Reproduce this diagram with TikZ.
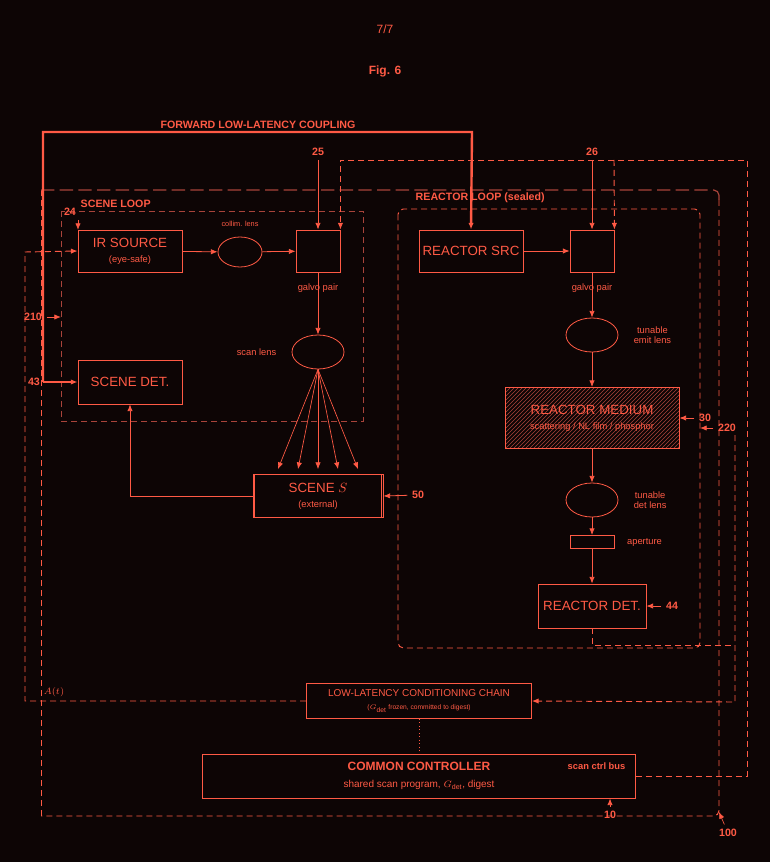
\documentclass[tikz,border=0pt]{standalone}
\usepackage{fontspec}
\setmainfont{Liberation Sans}
\usetikzlibrary{positioning,calc,patterns,arrows.meta,shapes.geometric}
\definecolor{ink}{HTML}{FF5A45}
\definecolor{dim}{HTML}{A8433A}
\definecolor{bg}{HTML}{0D0505}
\def\px{*0.75pt}
\tikzset{
  box/.style={draw=ink,line width=0.65pt,inner sep=0pt,text=ink,align=center},
  lens/.style={draw=ink,line width=0.6pt,ellipse,inner sep=0pt},
  lbl/.style={text=ink,font=\fontsize{7}{8}\selectfont,align=center},
  num/.style={text=ink,font=\bfseries\fontsize{8}{9}\selectfont},
  arr/.style={draw=ink,line width=0.6pt,-{Latex[length=5pt,width=4pt]}},
  dsh/.style={draw=ink,line width=0.7pt,dash pattern=on 4.5pt off 3pt},
}
\begin{document}
\begin{tikzpicture}[x=0.75pt,y=-0.75pt,font=\fontsize{10}{12}\selectfont]
\fill[bg] (0,0) rectangle (770,862);
\useasboundingbox (0,0) rectangle (770,862);

\node[text=ink,font=\fontsize{9}{10}\selectfont] (page) at (385,29) {7/7};
\node[num,font=\bfseries\fontsize{9}{10}\selectfont] (fig) at (385,71) {Fig. 6};

% frames
\draw[dsh,rounded corners=4pt] (41,816) -- (41,190);
\draw[dim,dash pattern=on 10pt off 4pt,line width=0.9pt,rounded corners=4pt] (41,190) -- (719,190) -- (719,200);
\draw[dsh,rounded corners=4pt] (719,200) -- (719,816) -- (41,816);
\draw[dim,dash pattern=on 4.5pt off 3pt,line width=0.7pt] (61,211) rectangle (363,421);
\draw[dsh,rounded corners=4pt] (398,209) rectangle (700,648);
\node[num,anchor=west] (sl) at (76,204) {SCENE LOOP};
\node[num,anchor=west] (rl) at (411,198) {REACTOR LOOP (sealed)};

% scene loop
\node[box,minimum width=104\px,minimum height=42\px] (irs) at (130,251) {IR SOURCE\\[-1pt]{\fontsize{7}{8}\selectfont (eye-safe)}};
\node[lens,minimum width=44\px,minimum height=30\px] (cl) at (240,252) {};
\node[lbl,font=\fontsize{5.5}{6}\selectfont,above=4pt of cl] (cll) {collim. lens};
\node[box,minimum width=44\px,minimum height=42\px] (gv1) at (318,251) {};
\node[lbl,below=5pt of gv1] (gv1l) {galvo pair};
\node[lens,minimum width=52\px,minimum height=34\px] (sc) at (318,352) {};
\node[lbl,left=8pt of sc] (scl) {scan lens};
\node[box,minimum width=104\px,minimum height=44\px] (sdet) at (130,382) {SCENE DET.};
\node[box,minimum width=130\px,minimum height=43\px] (scene) at (318,496) {SCENE $S$\\[-1pt]{\fontsize{7}{8}\selectfont (external)}};
\draw[ink,line width=0.6pt] ($(scene.north west)+(2,0)$) -- ($(scene.south west)+(2,0)$)
  ($(scene.north east)+(-2,0)$) -- ($(scene.south east)+(-2,0)$);

\draw[arr] (irs) -- (cl);
\draw[arr] (cl) -- (gv1);
\draw[arr] (gv1) -- (sc);
\foreach \dx in {-40,-20,0,20,40}
  \draw[arr,line width=0.5pt] (sc.south) -- ($(scene.north)+(\dx,-5)$);
\draw[arr] (scene.west) -| (sdet.south);

% reactor loop
\node[box,minimum width=104\px,minimum height=42\px] (rsrc) at (471,251) {REACTOR SRC};
\node[box,minimum width=44\px,minimum height=42\px] (gv2) at (592,251) {};
\node[lbl,below=5pt of gv2] (gv2l) {galvo pair};
\node[lens,minimum width=52\px,minimum height=34\px] (el) at (592,335) {};
\node[lbl,right=8pt of el] (ell) {tunable\\emit lens};
\node[box,pattern={north east lines},pattern color=dim,minimum width=174\px,minimum height=61\px] (med) at (592,418)
  {REACTOR MEDIUM\\[-1pt]{\fontsize{7}{8}\selectfont scattering / NL film / phosphor}};
\node[lens,minimum width=52\px,minimum height=34\px] (dl) at (592,500) {};
\node[lbl,right=8pt of dl] (dll) {tunable\\det lens};
\node[box,minimum width=44\px,minimum height=13\px] (ap) at (592,542) {};
\node[lbl,right=6pt of ap] (apl) {aperture};
\node[box,minimum width=108\px,minimum height=44\px] (rdet) at (592,606) {REACTOR DET.};

\draw[arr] (rsrc) -- (gv2);
\draw[arr] (gv2) -- (el);
\draw[arr] (el) -- (med);
\draw[arr] (med) -- (dl);
\draw[arr] (dl) -- (ap);
\draw[arr] (ap) -- (rdet);

% controller
\node[box,minimum width=225\px,minimum height=35\px] (chain) at (419,701)
  {{\fontsize{7.5}{9}\selectfont LOW-LATENCY CONDITIONING CHAIN}\\[-2pt]{\fontsize{5}{6}\selectfont ($G_\mathrm{det}$ frozen, committed to digest)}};
\node[box,minimum width=433\px,minimum height=44\px] (ctrl) at (419,776) {};
\node[text=ink,font=\bfseries\fontsize{9}{10}\selectfont] (ctrlt) at (419,766) {COMMON CONTROLLER};
\node[lbl,font=\fontsize{7.5}{9}\selectfont] (ctrls) at (419,785) {shared scan program, $G_\mathrm{det}$, digest};
\node[num,font=\bfseries\fontsize{7}{8}\selectfont,anchor=east] (bus) at (630,766) {scan ctrl bus};
\draw[ink,dotted,line width=0.6pt] (chain) -- (ctrl);

% forward coupling
\node[num] (fwd) at (258,125) {FORWARD LOW-LATENCY COUPLING};
\coordinate (j43) at (43,382);
\draw[arr,line width=1.8pt] (j43) -- (sdet);
\draw[arr,line width=1.8pt] (j43) |- (472,132) -- (rsrc.north);

% scan ctrl bus
\draw[dsh,-{Latex[length=5pt,width=4pt]}] (ctrl.east) -| (747,160) -| (gv1.north east);
\draw[dsh,-{Latex[length=5pt,width=4pt]}] (614,160) -- (gv2.north east);

% A(t) feedback
\draw[dsh,-{Latex[length=5pt,width=4pt]}] (chain.west) -| (25,252) -- (irs.west);
\node[text=ink,font=\fontsize{7.5}{9}\selectfont] (at) at (54,692) {$A(t)$};
\draw[dsh] (rdet.south) |- (735,645);
\draw[dsh,-{Latex[length=5pt,width=4pt]}] (735,435) -- (735,702) -- (chain.east);

% reference numerals
\node[num] (n24) at (70,212) {24};
\draw[arr] (78,220) -- (78,230);
\node[num] (n25) at (318,152) {25};
\draw[arr] (n25) -- (gv1);
\node[num] (n26) at (592,152) {26};
\draw[arr] (n26) -- (gv2);
\node[num] (n210) at (33,317) {210};
\draw[arr] (n210) -- (61,317);
\node[num] (n43) at (34,382) {43};
\node[num] (n50) at (418,495) {50};
\draw[arr] (n50) -- (scene.east);
\node[num] (n30) at (705,418) {30};
\draw[arr] (n30) -- (med.east);
\node[num] (n220) at (727,428) {220};
\draw[arr] (n220) -- (700,428);
\node[num] (n44) at (672,606) {44};
\draw[arr] (n44) -- (rdet.east);
\node[num] (n10) at (610,815) {10};
\draw[arr] (n10) -- (ctrl.south -| n10);
\node[num] (n100) at (728,833) {100};
\draw[arr,line width=0.5pt] (n100) -- (719,812);
\end{tikzpicture}
\end{document}
